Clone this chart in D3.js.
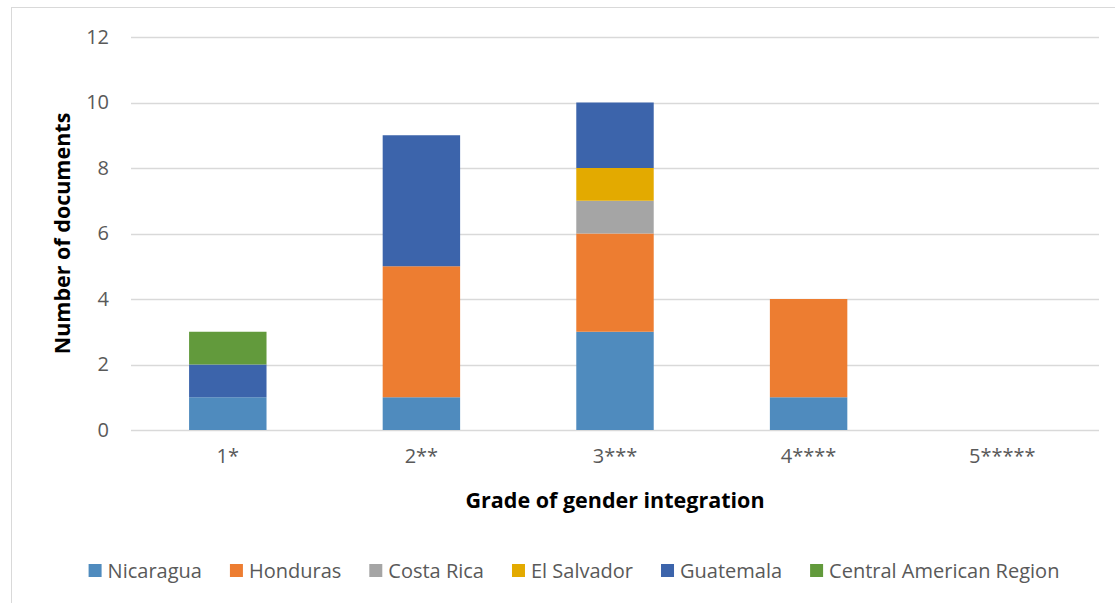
<!DOCTYPE html>
<html>
<head>
<meta charset="utf-8">
<script src="https://cdn.jsdelivr.net/npm/d3@7"></script>
<style>
  body { margin: 0; background: #fff; }
  svg text { font-family: "Open Sans", "Liberation Sans", sans-serif; }
</style>
</head>
<body>
<div class="container"></div>
<script>
// grades on the x axis
const grades = ['1*', '2**', '3***', '4****', '5*****'];

// document counts per country, one value per grade
const countries = ['Nicaragua', 'Honduras', 'Costa Rica', 'El Salvador', 'Guatemala', 'Central American Region'];
const nicaragua = [1, 1, 3, 1, 0];
const honduras = [0, 4, 3, 3, 0];
const costaRica = [0, 0, 1, 0, 0];
const elSalvador = [0, 0, 1, 0, 0];
const guatemala = [1, 4, 2, 0, 0];
const centralAmerica = [1, 0, 0, 0, 0];
const colors = ['#4f8bbe', '#ed7d31', '#a5a5a5', '#e3aa00', '#3c64ab', '#629a3c'];

const yTicks = [0, 2, 4, 6, 8, 10, 12];

const W = 1115, H = 603;
const margin = {left: 131, right: 16, top: 37, bottom: 173};

const svg = d3.select('.container').append('svg')
  .attr('width', W)
  .attr('height', H);

// chart border
svg.append('rect')
  .attr('x', 11.5).attr('y', 7.5)
  .attr('width', W - 10).attr('height', H)
  .attr('fill', 'none')
  .attr('stroke', '#d9d9d9');

const seriesArr = [nicaragua, honduras, costaRica, elSalvador, guatemala, centralAmerica];
const table = grades.map(function (g, i) {
  const row = {grade: g};
  countries.forEach(function (c, j) { row[c] = seriesArr[j][i]; });
  return row;
});
const stacked = d3.stack().keys(countries)(table);

const x = d3.scaleBand()
  .domain(grades)
  .range([margin.left, W - margin.right])
  .paddingInner(0.6)
  .paddingOuter(0.3);

const y = d3.scaleLinear()
  .domain([0, 12])
  .range([H - margin.bottom, margin.top]);

// gridlines
svg.append('g')
  .selectAll('line')
  .data(yTicks)
  .enter()
  .append('line')
  .attr('x1', margin.left)
  .attr('x2', W - margin.right)
  .attr('y1', function (d) { return Math.round(y(d)) + 0.5; })
  .attr('y2', function (d) { return Math.round(y(d)) + 0.5; })
  .attr('stroke', '#d9d9d9')
  .attr('stroke-width', 1.5);

// bars
const layers = svg.append('g')
  .selectAll('g')
  .data(stacked)
  .enter()
  .append('g')
  .attr('fill', function (d, i) { return colors[i]; });

layers.selectAll('rect')
  .data(function (d) { return d; })
  .enter()
  .append('rect')
  .attr('x', function (d) { return x(d.data.grade); })
  .attr('width', x.bandwidth())
  .attr('y', function (d) { return y(d[1]); })
  .attr('height', function (d) { return y(d[0]) - y(d[1]); });

// y tick labels
const yAxis = svg.append('g')
  .attr('transform', 'translate(' + margin.left + ',0)')
  .call(d3.axisLeft(y).tickValues(yTicks).tickSize(0).tickPadding(22));
yAxis.select('.domain').remove();
yAxis.selectAll('text')
  .attr('fill', '#595959')
  .style('font-size', '20px');

// x tick labels
const xAxis = svg.append('g')
  .attr('transform', 'translate(0,' + y(0) + ')')
  .call(d3.axisBottom(x).tickSize(0).tickPadding(19));
xAxis.select('.domain').remove();
xAxis.selectAll('text')
  .attr('fill', '#595959')
  .style('font-size', '20px');

// axis titles
svg.append('text')
  .attr('x', 615)
  .attr('y', 508)
  .attr('text-anchor', 'middle')
  .style('font-size', '21.5px')
  .style('font-weight', 'bold')
  .attr('fill', '#000')
  .text('Grade of gender integration');

svg.append('text')
  .attr('transform', 'translate(70,' + y(6) + ') rotate(-90)')
  .attr('text-anchor', 'middle')
  .style('font-size', '21.5px')
  .style('font-weight', 'bold')
  .attr('fill', '#000')
  .text('Number of documents');

// legend
const legend = svg.append('g');
const items = legend.selectAll('g')
  .data(countries)
  .enter()
  .append('g');

items.append('rect')
  .attr('width', 13)
  .attr('height', 13)
  .attr('y', -14)
  .attr('fill', function (d, i) { return colors[i]; });

items.append('text')
  .attr('x', 19)
  .attr('y', 0)
  .attr('fill', '#595959')
  .style('font-size', '20px')
  .text(function (d) { return d; });

const gap = 28;
let offset = 0;
items.each(function () {
  const w = this.querySelector('text').getComputedTextLength();
  d3.select(this).attr('data-x', offset);
  offset += 19 + w + gap;
});
const total = offset - gap;
const startX = 574 - total / 2;
items.attr('transform', function () {
  return 'translate(' + (startX + Number(this.getAttribute('data-x'))) + ',578)';
});
</script>
</body>
</html>
